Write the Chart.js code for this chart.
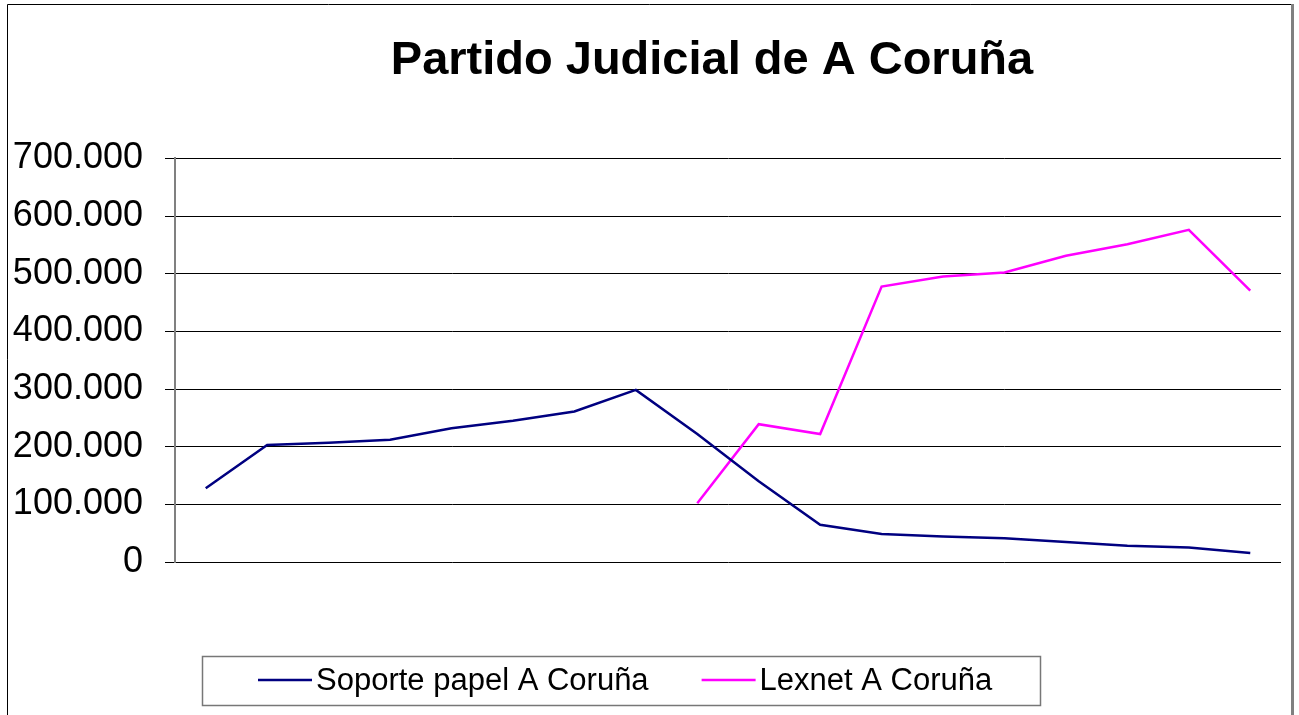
<!DOCTYPE html>
<html>
<head>
<meta charset="utf-8">
<title>Partido Judicial de A Coruña</title>
<script src="https://cdn.jsdelivr.net/npm/chart.js@4.4.0/dist/chart.umd.min.js"></script>
<style>
  html, body { margin: 0; padding: 0; background: #ffffff; }
  #chart { display: block; }
</style>
</head>
<body>
<canvas id="chart" width="1299" height="715"></canvas>
<script>
// Series (18 periods, no axis labels shown)
const categories = ['1', '2', '3', '4', '5', '6', '7', '8', '9', '10', '11', '12', '13', '14', '15', '16', '17', '18'];

const soportePapel = [128000, 203000, 207000, 212000, 232000, 245000, 261000, 298500, 222000,
  140000, 64600, 48500, 44400, 41000, 34700, 28200, 25300, 15600];

const lexnet = [null, null, null, null, null, null, null, null, 102000,
  239000, 222000, 477600, 495000, 502000, 531000, 551000, 576000, 470700];

const yTicks = [0, 100000, 200000, 300000, 400000, 500000, 600000, 700000];

const seriesNames = ['Soporte papel A Coruña', 'Lexnet A Coruña'];
const seriesColors = ['#000080', '#FF00FF'];

const FONT = '"Liberation Sans", Arial, Helvetica, sans-serif';

// 700000 -> "700.000"
function formatThousands(value) {
  return String(value).replace(/\B(?=(\d{3})+(?!\d))/g, '.');
}

// Frame around the whole chart plus the boxed legend at the bottom
const frameAndLegend = {
  id: 'frameAndLegend',
  afterLayout(chart) {
    // the title in the original sits a bit left of the plot centre
    if (chart.titleBlock) {
      chart.titleBlock.left = 143;
      chart.titleBlock.right = chart.chartArea.right;
    }
  },
  beforeDraw(chart) {
    const ctx = chart.ctx;
    ctx.save();
    ctx.fillStyle = '#ffffff';
    ctx.fillRect(0, 0, chart.width, chart.height);
    ctx.restore();
  },
  afterDraw(chart) {
    const ctx = chart.ctx;
    ctx.save();

    // outer frame
    ctx.strokeStyle = '#000000';
    ctx.lineWidth = 1;
    ctx.beginPath();
    ctx.moveTo(7.5, chart.height);
    ctx.lineTo(7.5, 4.5);
    ctx.lineTo(1291, 4.5);
    ctx.stroke();
    ctx.strokeStyle = '#808080';
    ctx.lineWidth = 3;
    ctx.beginPath();
    ctx.moveTo(1292.5, 4);
    ctx.lineTo(1292.5, chart.height);
    ctx.stroke();

    // legend box
    ctx.strokeStyle = '#777777';
    ctx.lineWidth = 1.5;
    ctx.strokeRect(202.5, 656.5, 838, 49);

    // legend entries
    ctx.font = '31px ' + FONT;
    ctx.textBaseline = 'middle';
    ctx.textAlign = 'left';
    let x = 258;
    const y = 681;
    chart.data.datasets.forEach((ds) => {
      ctx.strokeStyle = ds.borderColor;
      ctx.lineWidth = 2.5;
      ctx.beginPath();
      ctx.moveTo(x, y - 1);
      ctx.lineTo(x + 54, y - 1);
      ctx.stroke();
      ctx.fillStyle = '#000000';
      ctx.fillText(ds.label, x + 58, y);
      x += 58 + ctx.measureText(ds.label).width + 53;
    });

    ctx.restore();
  }
};

const chart = new Chart(document.getElementById('chart').getContext('2d'), {
  type: 'line',
  data: {
    labels: categories,
    datasets: [{
      label: seriesNames[0],
      data: soportePapel,
      borderColor: seriesColors[0],
      backgroundColor: seriesColors[0],
      borderWidth: 2.5,
      pointRadius: 0,
      tension: 0,
      spanGaps: false
    }, {
      label: seriesNames[1],
      data: lexnet,
      borderColor: seriesColors[1],
      backgroundColor: seriesColors[1],
      borderWidth: 2.5,
      pointRadius: 0,
      tension: 0,
      spanGaps: false
    }]
  },
  options: {
    responsive: false,
    animation: false,
    devicePixelRatio: 1,
    layout: {
      padding: { top: 8, left: 0, right: 18, bottom: 153 }
    },
    plugins: {
      legend: { display: false },
      tooltip: { enabled: false },
      title: {
        display: true,
        text: 'Partido Judicial de A Coruña',
        color: '#000000',
        font: { family: FONT, size: 47, weight: 'bold' },
        padding: { top: 25, bottom: 69 }
      }
    },
    scales: {
      x: {
        type: 'category',
        offset: true,
        display: false
      },
      y: {
        min: 0,
        max: 700000,
        afterFit(scale) {
          scale.width = 175;
        },
        afterBuildTicks(scale) {
          scale.ticks = yTicks.map(v => ({ value: v }));
        },
        grid: {
          color: '#000000',
          lineWidth: 1,
          tickLength: 10,
          tickColor: '#000000'
        },
        border: {
          display: true,
          color: '#808080',
          width: 2
        },
        ticks: {
          padding: 22,
          color: '#000000',
          font: { family: FONT, size: 36 },
          callback: (value) => formatThousands(value)
        }
      }
    }
  },
  plugins: [frameAndLegend]
});
</script>
</body>
</html>
